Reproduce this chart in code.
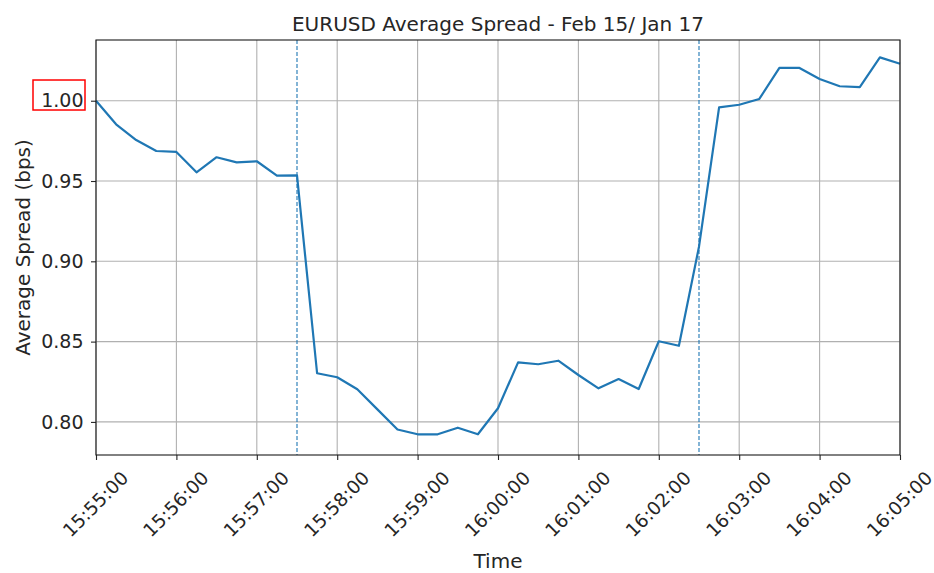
<!DOCTYPE html>
<html>
<head>
<meta charset="utf-8">
<script src="https://cdn.jsdelivr.net/npm/d3@7"></script>
<style>
  body { margin: 0; background: #ffffff; }
  text { font-family: "DejaVu Sans", sans-serif; fill: #262626; }
</style>
</head>
<body>
<script>
var times = [
  "15:55:00", "15:55:15", "15:55:30", "15:55:45", "15:56:00", "15:56:15", "15:56:30", "15:56:45",
  "15:57:00", "15:57:15", "15:57:30", "15:57:45", "15:58:00", "15:58:15", "15:58:30", "15:58:45",
  "15:59:00", "15:59:15", "15:59:30", "15:59:45", "16:00:00", "16:00:15", "16:00:30", "16:00:45",
  "16:01:00", "16:01:15", "16:01:30", "16:01:45", "16:02:00", "16:02:15", "16:02:30", "16:02:45",
  "16:03:00", "16:03:15", "16:03:30", "16:03:45", "16:04:00", "16:04:15", "16:04:30", "16:04:45",
  "16:05:00"
];
var spreads = [
  1.0000, 0.9853, 0.9755, 0.9687, 0.9681, 0.9554, 0.9648, 0.9616,
  0.9623, 0.9533, 0.9535, 0.8303, 0.8278, 0.8203, 0.8078, 0.7953,
  0.7923, 0.7923, 0.7964, 0.7923, 0.8085, 0.8371, 0.8359, 0.8381,
  0.8292, 0.8209, 0.8267, 0.8205, 0.8502, 0.8474, 0.9091, 0.9958,
  0.9975, 1.0011, 1.0205, 1.0204, 1.0135, 1.0090, 1.0085, 1.0270,
  1.0230
];
var eventTimes = ["15:57:30", "16:02:30"];
var xTickLabels = [
  "15:55:00", "15:56:00", "15:57:00", "15:58:00", "15:59:00", "16:00:00",
  "16:01:00", "16:02:00", "16:03:00", "16:04:00", "16:05:00"
];
var yTickValues = [0.80, 0.85, 0.90, 0.95, 1.00];
var highlightedTick = 1.00;
var chartTitle = "EURUSD Average Spread - Feb 15/ Jan 17";

var parseTime = d3.timeParse("%H:%M:%S");
var formatTime = d3.timeFormat("%H:%M:%S");

var outerWidth = 934;
var outerHeight = 573;
var margin = { top: 40, right: 34, bottom: 118, left: 96 };
var width = outerWidth - margin.left - margin.right;
var height = outerHeight - margin.top - margin.bottom;
var lineColor = "#1f77b4";

var data = times.map((t, i) => ({ Time: parseTime(t), Spread: spreads[i] }));
var xTicks = xTickLabels.map(parseTime);

var svg = d3
  .select("body")
  .append("svg")
  .attr("width", outerWidth)
  .attr("height", outerHeight);

var g = svg
  .append("g")
  .attr("transform", "translate(" + margin.left + "," + margin.top + ")");

const xScale = d3
  .scaleTime()
  .domain([xTicks[0], xTicks[xTicks.length - 1]])
  .range([0, width]);

const yScale = d3
  .scaleLinear()
  .domain([0.7794, 1.0378])
  .range([height, 0]);

// grid
g.selectAll(".xgrid")
  .data(xTicks)
  .enter()
  .append("line")
  .attr("x1", (d) => xScale(d))
  .attr("x2", (d) => xScale(d))
  .attr("y1", 0)
  .attr("y2", height)
  .attr("stroke", "#b0b0b0")
  .attr("stroke-width", 1.1);

g.selectAll(".ygrid")
  .data(yTickValues)
  .enter()
  .append("line")
  .attr("x1", 0)
  .attr("x2", width)
  .attr("y1", (d) => yScale(d))
  .attr("y2", (d) => yScale(d))
  .attr("stroke", "#b0b0b0")
  .attr("stroke-width", 1.1);

// dashed event lines
g.selectAll(".event-line")
  .data(eventTimes.map(parseTime))
  .enter()
  .append("line")
  .attr("x1", (d) => xScale(d))
  .attr("x2", (d) => xScale(d))
  .attr("y1", 0)
  .attr("y2", height)
  .attr("stroke", lineColor)
  .attr("stroke-width", 1.1)
  .attr("stroke-dasharray", "4,2");

// spread line
var line = d3
  .line()
  .x((d) => xScale(d.Time))
  .y((d) => yScale(d.Spread));

g.append("path")
  .datum(data)
  .attr("d", line)
  .attr("fill", "none")
  .attr("stroke", lineColor)
  .attr("stroke-width", 2.2)
  .attr("stroke-linejoin", "round");

// axes
var xAxis = d3
  .axisBottom(xScale)
  .tickValues(xTicks)
  .tickFormat(formatTime)
  .tickSize(5)
  .tickSizeOuter(0);

var yAxis = d3
  .axisLeft(yScale)
  .tickValues(yTickValues)
  .tickFormat(d3.format(".2f"))
  .tickSize(5)
  .tickPadding(7.5)
  .tickSizeOuter(0);

var xg = g.append("g")
  .attr("transform", "translate(0," + height + ")")
  .call(xAxis);
xg.select(".domain").remove();
xg.selectAll("line").attr("stroke", "#262626").attr("stroke-width", 1.1);
xg.selectAll("text")
  .attr("y", null)
  .attr("dy", null)
  .attr("font-size", 18.5)
  .attr("font-family", "DejaVu Sans")
  .attr("fill", "#262626")
  .attr("text-anchor", "middle")
  .attr("dominant-baseline", "central")
  .attr("transform", "translate(-1,49) rotate(-45)");

var yg = g.append("g").call(yAxis);
yg.select(".domain").remove();
yg.selectAll("line").attr("stroke", "#262626").attr("stroke-width", 1.1);
yg.selectAll("text")
  .attr("font-size", 19)
  .attr("font-family", "DejaVu Sans")
  .attr("fill", "#262626");

// frame
g.append("rect")
  .attr("width", width)
  .attr("height", height)
  .attr("fill", "none")
  .attr("stroke", "#1a1a1a")
  .attr("stroke-width", 1.1);

// labels
g.append("text")
  .attr("x", width / 2)
  .attr("y", -9)
  .attr("text-anchor", "middle")
  .attr("font-size", 20)
  .text(chartTitle);

g.append("text")
  .attr("text-anchor", "middle")
  .attr("transform", "translate(-66," + height / 2 + ") rotate(-90)")
  .attr("font-size", 20)
  .text("Average Spread (bps)");

g.append("text")
  .attr("x", width / 2)
  .attr("y", 528)
  .attr("text-anchor", "middle")
  .attr("font-size", 20)
  .text("Time");

// red box around the 1.00 tick label
g.append("rect")
  .attr("x", -63)
  .attr("y", yScale(highlightedTick) - 20.7)
  .attr("width", 52)
  .attr("height", 30)
  .attr("fill", "none")
  .attr("stroke", "red")
  .attr("stroke-width", 1.5);
</script>
</body>
</html>
